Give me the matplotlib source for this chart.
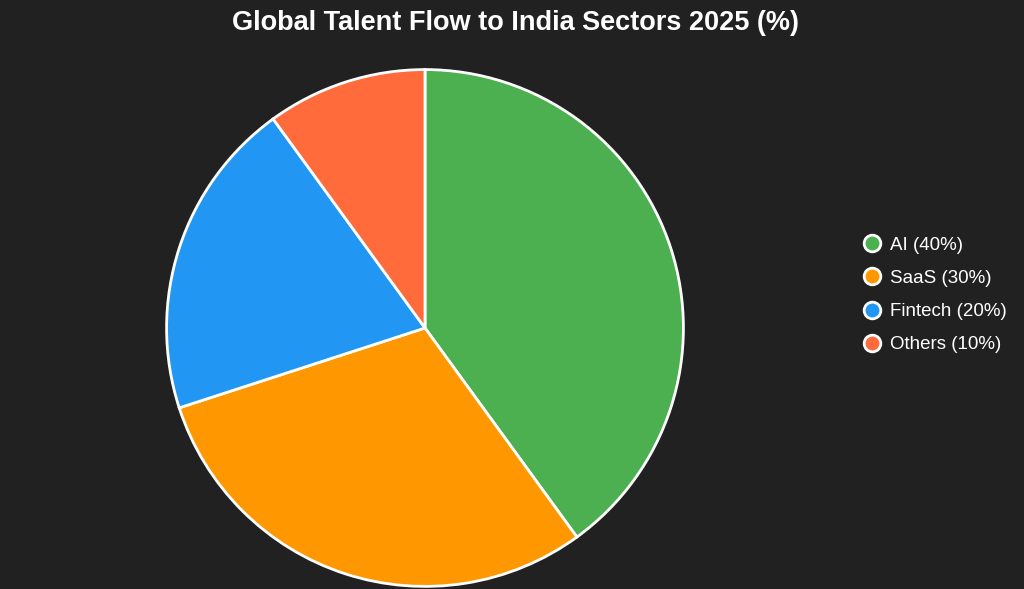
import matplotlib.pyplot as plt
from matplotlib.lines import Line2D

sectors = ['AI', 'SaaS', 'Fintech', 'Others']
shares = [40, 30, 20, 10]
colors = ['#4CAF50', '#FF9800', '#2196F3', '#FF6B3B']
bg = '#212121'

plt.rcParams['font.family'] = ['Liberation Sans', 'DejaVu Sans']

fig = plt.figure(figsize=(10.24, 5.89), dpi=100, facecolor=bg)
ax = fig.add_axes([164 / 1024, 1 - 589 / 589, 522 / 1024, 522 / 589])
ax.set_facecolor(bg)
ax.pie(shares, colors=colors, startangle=90, counterclock=False, radius=1,
       wedgeprops={'edgecolor': 'white', 'linewidth': 2})
ax.set_xlim(-1.01, 1.01)
ax.set_ylim(-1.01, 1.01)
ax.set_aspect('equal')

fig.text(516 / 1024, 1 - 23 / 589, 'Global Talent Flow to India Sectors 2025 (%)',
         ha='center', va='center', color='white', fontsize=19.5, fontweight='bold')

handles = [Line2D([], [], marker='o', linestyle='none', markersize=12,
                  markerfacecolor=c, markeredgecolor='white', markeredgewidth=2)
           for c in colors]
labels = [f'{s} ({v}%)' for s, v in zip(sectors, shares)]
leg = fig.legend(handles, labels, loc='center left',
                 bbox_to_anchor=(844 / 1024, 1 - 295 / 589), frameon=False,
                 fontsize=13.5, labelcolor='white', handletextpad=0.35,
                 labelspacing=0.86, handlelength=1.2)

fig.savefig('out.png', dpi=100, facecolor=bg)
